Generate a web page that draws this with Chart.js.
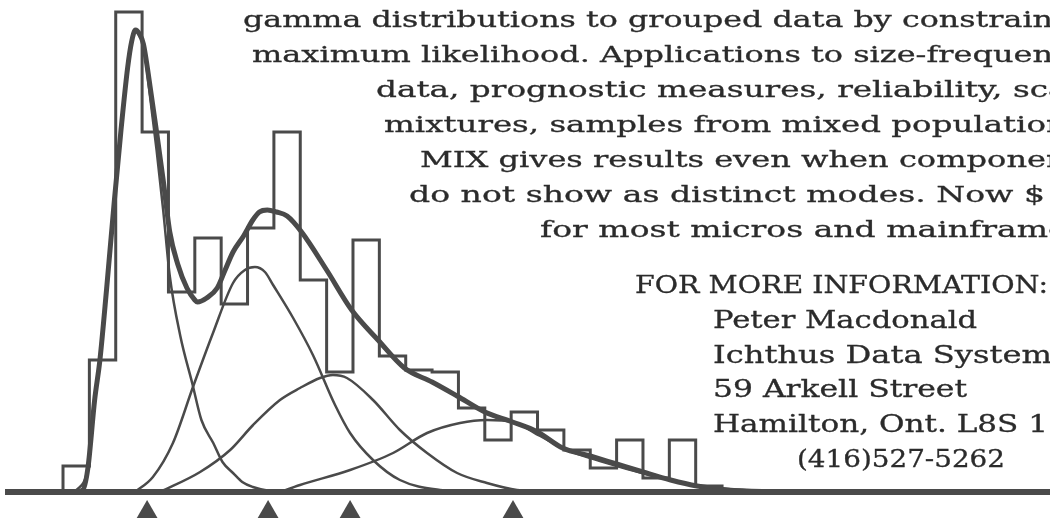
<!DOCTYPE html>
<html>
<head>
<meta charset="utf-8">
<script src="https://cdn.jsdelivr.net/npm/chart.js@4/dist/chart.umd.min.js"></script>
<style>
  html, body { margin: 0; padding: 0; background: #fff; }
  canvas { display: block; }
</style>
</head>
<body>
<canvas id="mix" width="1050" height="524"></canvas>
<script>
// grouped data: one count per class interval (class 0 .. 24)
const binCounts = [6.5, 33, 120, 90, 50, 63.5, 47, 66, 90, 53, 30, 63, 34, 30.5, 30, 21, 13, 20, 15.5, 10.5, 6, 13, 3.5, 13, 1.5];

// fitted mixture density (thick line)
const totalX = [0.45, 0.75, 0.95, 1.2, 1.4, 1.65, 1.95, 2.2, 2.45, 2.6, 2.75, 2.9, 3.05, 3.3, 3.55, 3.8, 4.05, 4.35, 4.7, 5.0, 5.1, 5.45, 5.85, 6.15, 6.45, 6.85, 7.2, 7.45, 7.75, 8.1, 8.5, 9.05, 10.0, 10.95, 11.95, 12.95, 14.0, 14.95, 16.0, 17.05, 18.0, 18.95, 20.0, 21.0, 22.0, 23.05, 24.05, 25.2, 27.2];
const totalY = [0, 0.5, 6.25, 23, 33, 50.5, 73, 90.5, 106, 112.5, 115.5, 114.5, 112, 101.5, 90, 78, 65, 57, 51, 48, 47.5, 48.5, 51, 55.5, 60, 64, 68, 70, 70.5, 70, 69, 65, 55.5, 45.5, 38, 31, 27.5, 24, 20, 17.5, 15, 11, 9, 7, 5, 3, 1.5, 0.5, 0];

// the four components (thin lines)
const comp1X = [0.45, 0.95, 1.2, 1.4, 1.65, 1.95, 2.2, 2.45, 2.6, 2.75, 2.9, 3.05, 3.3, 3.55, 3.8, 4.05, 4.45, 4.9, 5.25, 5.7, 6.05, 6.45, 6.8, 7.2, 7.85, 8.6];
const comp1Y = [0, 6.25, 23, 33, 50.5, 73, 90.5, 106, 112.5, 115.5, 114, 111.75, 99, 85.5, 70.5, 54, 39, 27.25, 18, 12.25, 7.5, 4.75, 2.5, 1.25, 0.25, 0];
const comp2X = [2.73, 3.41, 4.17, 4.93, 5.69, 6.45, 6.9, 7.28, 7.66, 7.97, 8.73, 9.48, 10.32, 10.89, 11.76, 12.78, 14.3, 15.82];
const comp2Y = [0, 3.75, 12.25, 26.25, 39.75, 52.25, 55.5, 56.25, 55, 51.75, 43.5, 34.25, 21.75, 14.75, 8, 3, 0.5, 0];
const comp3X = [3.68, 5.2, 6.34, 7.21, 8.23, 8.99, 9.75, 10.24, 10.77, 11.76, 12.78, 13.81, 14.95, 16.08, 17.22, 18.85];
const comp3Y = [0, 5, 10.5, 16.75, 23, 26, 28.5, 29.25, 28.5, 23, 15.5, 9.75, 4.75, 2.25, 0.5, 0];
const comp4X = [8.23, 8.99, 10.89, 12.52, 13.81, 15.06, 16.08, 17.07, 18.1, 19.04, 20.37, 22.27, 24.17, 26.44, 28.72];
const comp4Y = [0, 1.75, 5.5, 9.75, 14.75, 17.25, 18, 17.5, 14, 10.75, 7.75, 4.25, 1.5, 0.25, 0];

// component means, marked under the axis
const compMeans = [3.19, 7.78, 10.89, 17.07];

// advert copy (running past the right edge, as in the scan)
const copyLines = [
  'gamma distributions to grouped data by constrained',
  'maximum likelihood. Applications to size-frequency',
  'data, prognostic measures, reliability, scale',
  'mixtures, samples from mixed populations.',
  'MIX gives results even when components',
  'do not show as distinct modes. Now $',
  'for most micros and mainframes.'
];
// the part of each copy line that is still visible
const copyVisible = [
  'gamma distributions to grouped data by constrain',
  'maximum likelihood. Applications to size-frequen',
  'data, prognostic measures, reliability, sc',
  'mixtures, samples from mixed populatio',
  'MIX gives results even when compone',
  'do not show as distinct modes. Now $',
  'for most micros and mainfram'
];
const contactLines = [
  'FOR MORE INFORMATION:',
  'Peter Macdonald',
  'Ichthus Data Systems',
  '59 Arkell Street',
  'Hamilton, Ont. L8S 1',
  '(416)527-5262'
];
const contactVisible = [null, null, 'Ichthus Data System', null, null, null];

const ink = '#4a4a4a';
const textInk = '#2b2b2b';

const histPts = [{ x: 0, y: 0 }];
binCounts.forEach((c, i) => histPts.push({ x: i, y: c }));
histPts.push({ x: binCounts.length, y: 0 });

const pts = (xs, ys) => xs.map((x, i) => ({ x, y: ys[i] }));

const curve = (data, w) => ({
  type: 'line', data, borderColor: ink, borderWidth: w,
  pointRadius: 0, cubicInterpolationMode: 'monotone', fill: false
});

// fit a line of text between two x positions by squeezing it sideways
function fitText(ctx, text, left, base, width, measureText) {
  const sx = width / ctx.measureText(measureText || text).width;
  ctx.save();
  ctx.translate(left, base);
  ctx.scale(sx, 1);
  ctx.fillText(text, 0, 0);
  ctx.strokeText(text, 0, 0);
  ctx.restore();
}

// axis line + text drawn on top of the plot
const adPlugin = {
  id: 'ad',
  afterDatasetsDraw(chart) {
    const { ctx, scales: { x, y } } = chart;
    const y0 = y.getPixelForValue(0);
    ctx.save();
    ctx.strokeStyle = ink;
    ctx.lineWidth = 6;
    ctx.beginPath();
    ctx.moveTo(x.getPixelForValue(-2.2), y0);
    ctx.lineTo(chart.width, y0);
    ctx.stroke();
    ctx.restore();
  },
  afterDraw(chart) {
    const ctx = chart.ctx;
    ctx.save();
    ctx.fillStyle = textInk;
    ctx.strokeStyle = textInk;
    ctx.lineWidth = 0.3;
    ctx.textBaseline = 'alphabetic';

    // top paragraph
    ctx.font = '23px "DejaVu Serif"';
    const leftT = [243, 252, 376, 384, 420, 409, 540];
    const rightT = [1053, 1053, 1048, 1046, 1046, 1045, 1048];
    copyLines.forEach((t, i) => {
      fitText(ctx, t, leftT[i], 27 + i * 35, rightT[i] - leftT[i], copyVisible[i]);
    });

    // contact block
    ctx.font = '24px "DejaVu Serif"';
    const leftC = [635, 713, 713, 713, 713, 797];
    const rightC = [1048, 977, 1052, 967, 1048, 1005];
    contactLines.forEach((t, i) => {
      fitText(ctx, t, leftC[i], 293 + i * 34.8, rightC[i] - leftC[i], contactVisible[i]);
    });
    ctx.restore();
  }
};

new Chart(document.getElementById('mix'), {
  data: {
    datasets: [
      { type: 'line', data: histPts, stepped: 'before', borderColor: ink, borderWidth: 3, pointRadius: 0, fill: false },
      curve(pts(comp1X, comp1Y), 2.5),
      curve(pts(comp2X, comp2Y), 2.5),
      curve(pts(comp3X, comp3Y), 2.5),
      curve(pts(comp4X, comp4Y), 2.5),
      curve(pts(totalX, totalY), 5),
      {
        type: 'scatter', data: compMeans.map(m => ({ x: m, y: -5 })),
        pointStyle: 'triangle', pointRadius: 12, backgroundColor: ink, borderWidth: 0
      }
    ]
  },
  options: {
    responsive: false,
    animation: false,
    devicePixelRatio: 1,
    layout: { padding: 0, autoPadding: false },
    plugins: { legend: { display: false }, tooltip: { enabled: false } },
    scales: {
      x: { type: 'linear', min: -2.39, max: 37.44, display: false },
      y: { type: 'linear', min: -8, max: 123, display: false }
    }
  },
  plugins: [adPlugin]
});
</script>
</body>
</html>
